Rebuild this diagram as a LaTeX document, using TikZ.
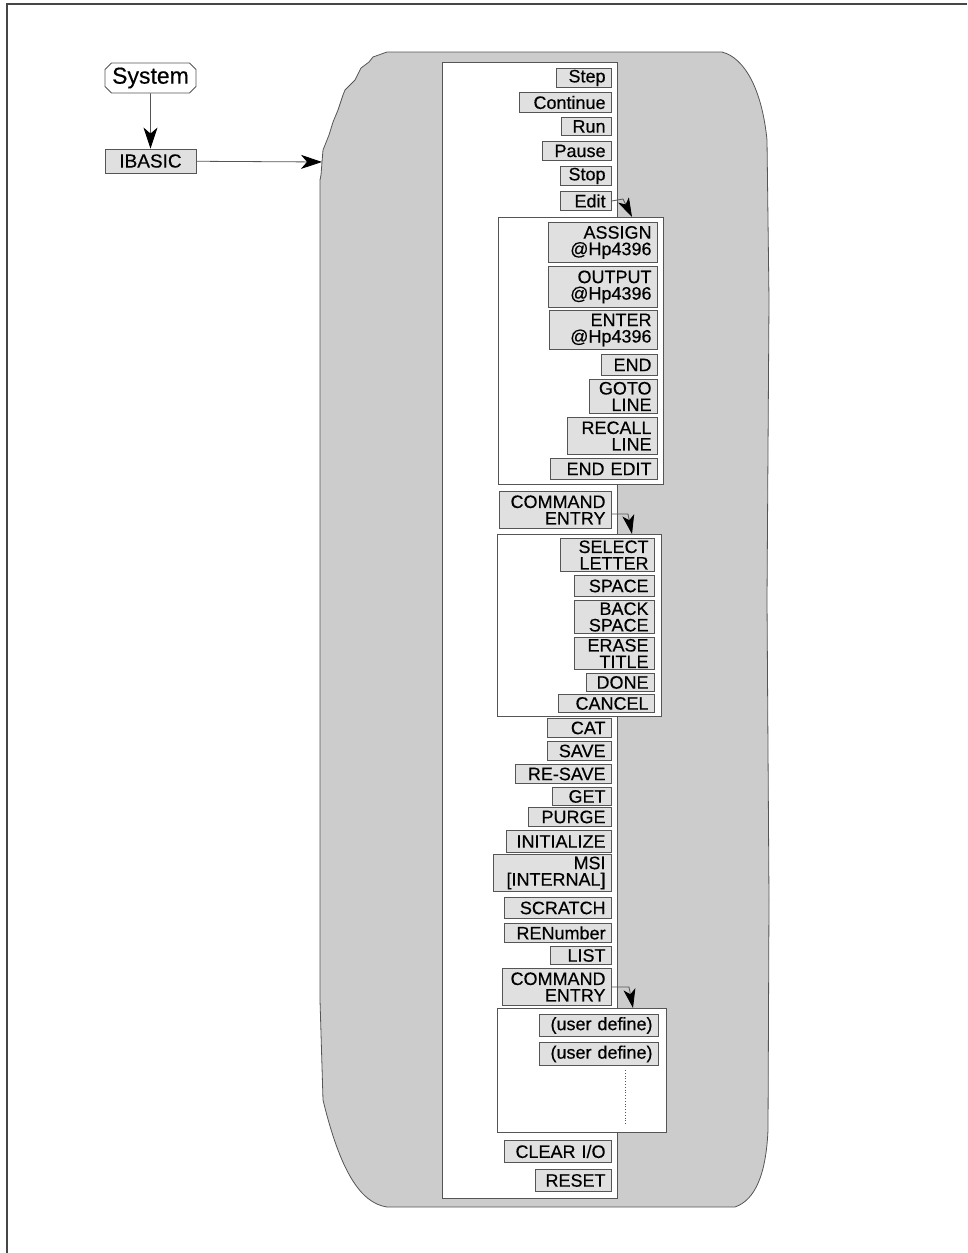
\documentclass[tikz,border=0pt]{standalone}
\usepackage{fontspec}
\setmainfont{Liberation Sans}
\newfontfamily\btnfont{Liberation Sans}[FakeBold=0.35]
\usetikzlibrary{arrows.meta,shapes.misc}
\definecolor{blobfill}{RGB}{204,204,204}
\definecolor{btnfill}{RGB}{224,224,224}
\definecolor{edgec}{RGB}{85,85,85}
\definecolor{framec}{RGB}{70,70,70}
\tikzset{
  btn/.style={draw=edgec, fill=btnfill, line width=0.9pt, inner xsep=0pt, inner ysep=0pt,
    anchor=north east, font=\btnfont\fontsize{18}{16.5}\selectfont, align=right},
  panel/.style={draw=edgec, fill=white, line width=0.9pt, inner sep=0pt, anchor=north west},
  arr/.style={-{Stealth[length=21pt,width=14pt,inset=6pt,black]}, line width=0.8pt, draw=edgec},
  smallarr/.style={-{Stealth[length=19pt,width=12pt,inset=5pt,black]}, line width=0.8pt, draw=edgec},
}
% name, left, top, right, bottom, text
\newcommand\btnode[6]{%
  \pgfmathsetmacro\bw{#4-#2}\pgfmathsetmacro\bh{#5-#3}\pgfmathsetmacro\tw{#4-#2-12}%
  \node[btn, minimum width=\bw pt, minimum height=\bh pt, text width=\tw pt] (#1) at (#4,#3) {#6};%
}
% name, left, top, right, bottom
\newcommand\panelnode[5]{%
  \pgfmathsetmacro\pw{#4-#2}\pgfmathsetmacro\ph{#5-#3}%
  \node[panel, minimum width=\pw pt, minimum height=\ph pt] (#1) at (#2,#3) {};%
}
\begin{document}
\begin{tikzpicture}[x=1pt,y=-1pt]
\useasboundingbox (0,0) rectangle (967,1253);
% page frame
\draw[framec, line width=1.2pt] (967,4) -- (7,4) -- (7,1253);

% blob
\draw[edgec, line width=0.8pt, fill=blobfill]
  (387,52) -- (722,52) .. controls (745,58) and (762,90) .. (767,140)
  -- (769,300) -- (767,600) -- (769,900) -- (768,1130)
  .. controls (766,1175) and (755,1200) .. (735,1207)
  -- (387,1207) .. controls (360,1203) and (340,1170) .. (323,1100)
  -- (320,1000) -- (320,180) -- (321,175) -- (322,162) -- (323,150) -- (329,135)
  -- (333,122) -- (338,110) -- (343,95) -- (345,90) -- (355,80) -- (361,68)
  -- (369,62) -- (373,57) -- cycle;
\coordinate (blobL) at (322,162);

% System and IBASIC
\node[draw=edgec, fill=white, line width=0.9pt, chamfered rectangle, chamfered rectangle xsep=3pt,
  minimum width=91pt, minimum height=30pt, inner sep=0pt, font=\btnfont\fontsize{23}{23}\selectfont]
  (system) at (150.5,78) {System};
\node[draw=edgec, fill=btnfill, line width=0.9pt, minimum width=91pt, minimum height=24pt,
  inner sep=0pt, font=\btnfont\fontsize{19}{19}\selectfont] (ibasic) at (150.5,161) {IBASIC};
\draw[arr] (system) -- (ibasic);
\draw[arr] (ibasic) -- (blobL);

% panels
\panelnode{main}{442}{62}{617}{1198}
\panelnode{sub1}{498}{217}{663}{484}
\panelnode{sub2}{497}{534}{661}{716}
\panelnode{sub3}{497}{1008}{666}{1132}

% top buttons
\btnode{step}{557}{68}{612}{87}{Step}
\btnode{cont}{520}{92}{612}{112}{Continue}
\btnode{run}{562}{117}{612}{135}{Run}
\btnode{pause}{543}{141}{612}{160}{Pause}
\btnode{stop}{561}{166}{612}{185}{Stop}
\btnode{edit}{561}{191}{612}{210}{Edit}

% edit submenu
\btnode{assign}{549}{222}{658}{262}{ASSIGN\\@Hp4396}
\btnode{output}{549}{266}{658}{307}{OUTPUT\\@Hp4396}
\btnode{enter}{550}{310}{658}{349}{ENTER\\@Hp4396}
\btnode{endb}{602}{354}{658}{375}{END}
\btnode{goto}{590}{379}{658}{413}{GOTO\\LINE}
\btnode{recall}{568}{417}{658}{454}{RECALL\\LINE}
\btnode{endedit}{551}{458}{658}{479}{END EDIT}

\btnode{ceone}{500}{491}{612}{528}{COMMAND\\ENTRY}

% command entry submenu
\btnode{select}{561}{538}{655}{571}{SELECT\\LETTER}
\btnode{space}{575}{575}{655}{596}{SPACE}
\btnode{back}{575}{600}{655}{633}{BACK\\SPACE}
\btnode{erase}{575}{637}{655}{669}{ERASE\\TITLE}
\btnode{done}{587}{673}{655}{691}{DONE}
\btnode{cancel}{559}{694}{655}{712}{CANCEL}

% lower buttons
\btnode{cat}{548}{718}{612}{737}{CAT}
\btnode{save}{548}{741}{612}{760}{SAVE}
\btnode{resave}{516}{764}{612}{783}{RE-SAVE}
\btnode{get}{553}{787}{612}{805}{GET}
\btnode{purge}{529}{807}{612}{826}{PURGE}
\btnode{init}{507}{830}{612}{852}{INITIALIZE}
\btnode{msi}{494}{854}{612}{891}{MSI\\{[INTERNAL]}}
\btnode{scratch}{505}{897}{612}{918}{SCRATCH}
\btnode{renum}{505}{923}{612}{942}{RENumber}
\btnode{list}{551}{946}{612}{964}{LIST}
\btnode{cetwo}{503}{968}{612}{1005}{COMMAND\\ENTRY}

% user define submenu
\btnode{udone}{540}{1014}{659}{1036}{(user define)}
\btnode{udtwo}{540}{1042}{659}{1065}{(user define)}
\coordinate (dotA) at (625,1070);
\coordinate (dotB) at (625,1125);
\draw[edgec, dotted, line width=0.8pt] (dotA) -- (dotB);

\btnode{clear}{505}{1140}{612}{1162}{CLEAR I/O}
\btnode{reset}{536}{1169}{612}{1191}{RESET}

% submenu arrows
\coordinate (ea) at (623,199);
\coordinate (eb) at (632,217);
\draw[smallarr] (edit.east) -- (ea) -- (eb);
\coordinate (ca) at (628,514);
\coordinate (cb) at (632,534);
\draw[smallarr] (ceone.east |- ca) -- (ca) -- (cb);
\coordinate (da) at (629,987);
\coordinate (db) at (633,1008);
\draw[smallarr] (cetwo.east |- da) -- (da) -- (db);
\end{tikzpicture}
\end{document}
